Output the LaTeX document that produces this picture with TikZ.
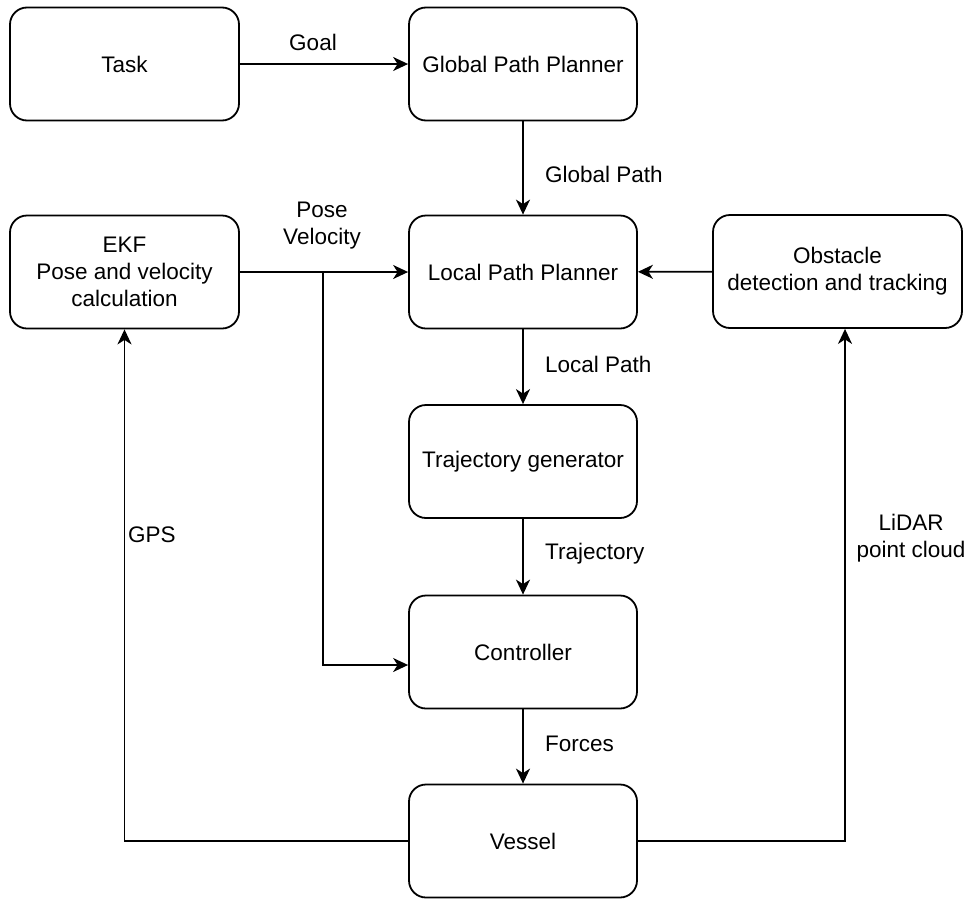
\documentclass[tikz,border=0pt]{standalone}
\usepackage{fontspec}
\setmainfont{Liberation Sans}
\usetikzlibrary{arrows.meta}
\tikzset{
  blk/.style={draw, line width=1.8pt, rounded corners=17pt, minimum width=228pt, minimum height=113pt, inner sep=0pt, align=center, font=\fontsize{22.5}{27}\selectfont},
  arr/.style={line width=1.8pt, -{Stealth[length=15pt, width=14pt, inset=4.5pt]}},
  lbl/.style={inner sep=0pt, align=center, font=\fontsize{22.5}{27}\selectfont},
}
\begin{document}
\begin{tikzpicture}[x=1pt,y=-1pt]
\useasboundingbox (0,0) rectangle (968,900);
\node[blk, minimum width=229pt] (task) at (124.5,64) {Task};
\node[blk] (gpp) at (523,64) {Global Path Planner};
\node[blk, minimum width=229pt] (ekf) at (124.5,272) {EKF\\Pose and velocity\\calculation};
\node[blk] (lpp) at (523,272) {Local Path Planner};
\node[blk, minimum width=249pt] (obs) at (837.5,271.5) {Obstacle\\detection and tracking};
\node[blk] (traj) at (523,461.5) {Trajectory generator};
\node[blk] (ctrl) at (523,652) {Controller};
\node[blk] (vessel) at (523,841) {Vessel};

\draw[arr] (task) -- (gpp);
\draw[arr] (gpp) -- (lpp);
\draw[arr] (ekf) -- (lpp);
\coordinate (br) at (323,272);
\draw[arr] (br) |- ([yshift=-13pt]ctrl.west);
\draw[arr] (obs) -- (lpp);
\draw[arr] (lpp) -- (traj);
\draw[arr] (traj) -- (ctrl);
\draw[arr] (ctrl) -- (vessel);
\draw[arr] (vessel.west) -| (ekf.south);
\draw[arr] (vessel.east) -| ([xshift=7.5pt]obs.south);

\node[lbl] (goal) at (313,42) {Goal};
\node[lbl, anchor=west] (gpath) at (545,174) {Global Path};
\node[lbl] (posevel) at (322,226) {Pose\\Velocity};
\node[lbl, anchor=west] (lpath) at (545,364) {Local Path};
\node[lbl, anchor=west] (trajl) at (545,554) {Trajectory};
\node[lbl, anchor=west] (forces) at (545,744) {Forces};
\node[lbl, anchor=west] (gps) at (128,535) {GPS};
\node[lbl] (lidar) at (911,538) {LiDAR\\point cloud};
\end{tikzpicture}
\end{document}
